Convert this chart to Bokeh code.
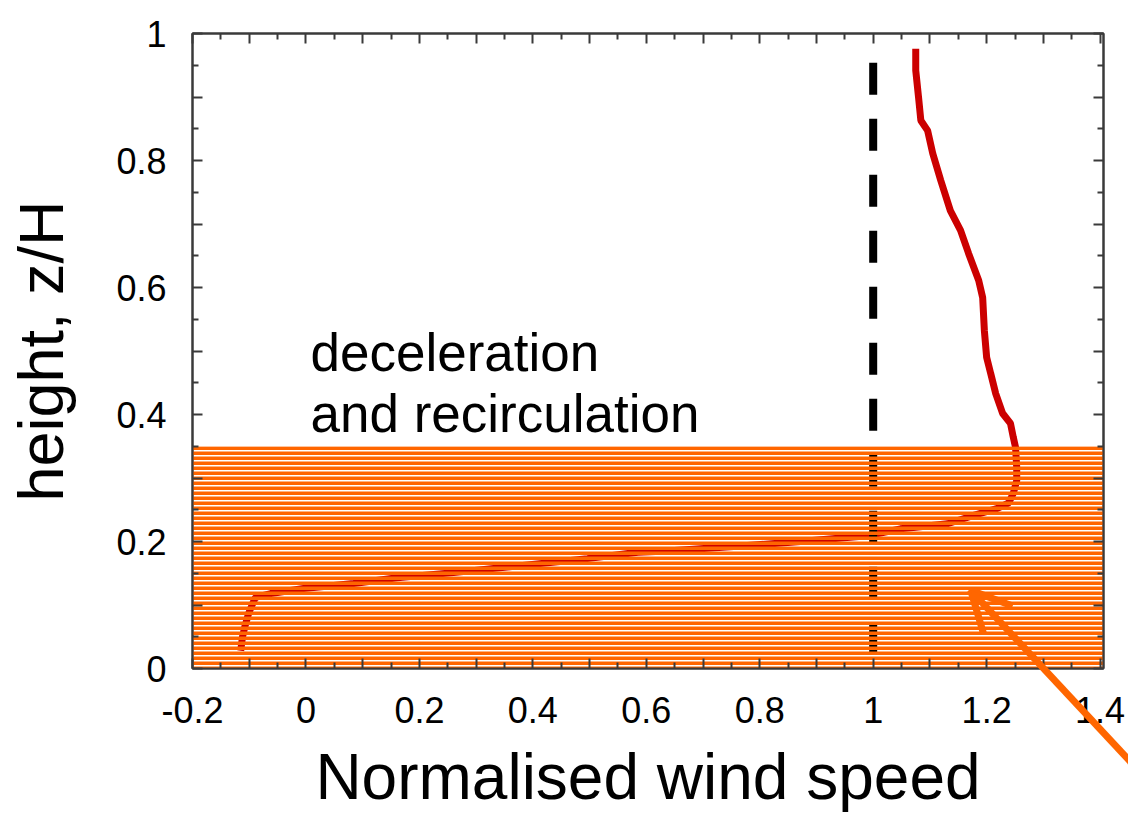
from bokeh.plotting import figure
from bokeh.layouts import column
from bokeh.models import Range1d, LinearAxis, FixedTicker, CustomJSTickFormatter, Arrow, OpenHead
from bokeh.core.properties import value
from bokeh.embed import file_html
from bokeh.resources import INLINE

# ---- data ----
wind_speed = [-0.115, -0.112, -0.108, -0.101, -0.094, -0.089, -0.062, -0.004, 0.084, 0.161,
              0.260, 0.378, 0.496, 0.585, 0.637, 0.754, 0.872, 0.990, 1.048, 1.071,
              1.131, 1.177, 1.219, 1.239, 1.247, 1.253, 1.253, 1.251, 1.247, 1.242,
              1.228, 1.216, 1.207, 1.200, 1.196, 1.193, 1.186, 1.168, 1.154, 1.136,
              1.119, 1.105, 1.096, 1.084, 1.080, 1.075, 1.075]
height = [0.028, 0.049, 0.065, 0.087, 0.102, 0.112, 0.118, 0.126, 0.134, 0.143,
          0.151, 0.162, 0.173, 0.183, 0.185, 0.192, 0.200, 0.209, 0.220, 0.222,
          0.228, 0.241, 0.252, 0.261, 0.276, 0.296, 0.317, 0.348, 0.364, 0.386,
          0.402, 0.433, 0.465, 0.490, 0.532, 0.584, 0.611, 0.654, 0.690, 0.721,
          0.769, 0.811, 0.847, 0.863, 0.899, 0.942, 0.976]

ref_speed = 1.0          # dashed reference line
ref_top = 0.954
band_bottom, band_top = 0.0, 0.35   # hatched region
annot_lines = ["deceleration", "and recirculation"]
annot_x = [0.008, 0.008]
annot_y = [0.498, 0.402]
arrow_tail = (1.53, -0.22)
arrow_tip = (1.172, 0.123)

x_min, x_max = -0.2, 1.406
y_min, y_max = 0.0, 1.0
x_major = [-0.2, -0.1, 0.0, 0.1, 0.2, 0.3, 0.4, 0.5, 0.6, 0.7, 0.8, 0.9, 1.0, 1.1, 1.2, 1.3, 1.4]
x_minor = [-0.15, -0.05, 0.05, 0.15, 0.25, 0.35, 0.45, 0.55, 0.65, 0.75, 0.85, 0.95, 1.05, 1.15, 1.25, 1.35]
y_major = [0.0, 0.1, 0.2, 0.3, 0.4, 0.5, 0.6, 0.7, 0.8, 0.9, 1.0]
y_minor = [0.05, 0.15, 0.25, 0.35, 0.45, 0.55, 0.65, 0.75, 0.85, 0.95]

FONT = "Liberation Sans"
RED = "#CC0000"
ORANGE = "#FF6600"
FRAME = "#3a3a3a"

W, H = 1128, 817
BL, BR, BT, BB = 192, 25, 33, 149

p = figure(width=W, height=H, output_backend="svg", toolbar_location=None,
           x_range=Range1d(x_min, x_max), y_range=Range1d(y_min, y_max),
           x_axis_label="Normalised wind speed", y_axis_label="height, z/H",
           min_border_left=BL, min_border_right=BR, min_border_top=BT, min_border_bottom=BB)
p.frame_align = False
p.xgrid.visible = False
p.ygrid.visible = False
p.outline_line_color = FRAME
p.outline_line_width = 2
p.background_fill_color = "white"
p.border_fill_color = "white"

label_fmt = CustomJSTickFormatter(code="""
const r = Math.round(tick * 10);
if (r % 2 !== 0) { return ""; }
return String(r / 10);
""")
blank_fmt = CustomJSTickFormatter(code="return '';")

def style_axis(ax, ticks, minor, fmt, show):
    ax.ticker = FixedTicker(ticks=ticks, minor_ticks=minor)
    ax.formatter = fmt
    ax.axis_line_color = FRAME
    ax.axis_line_width = 2
    ax.major_tick_line_color = FRAME
    ax.minor_tick_line_color = FRAME
    ax.major_tick_line_width = 2
    ax.minor_tick_line_width = 2
    ax.major_tick_in = 10
    ax.major_tick_out = 0
    ax.minor_tick_in = 6
    ax.minor_tick_out = 0
    ax.major_label_text_font = FONT
    ax.major_label_text_font_size = "36px" if show else "1px"
    ax.major_label_text_color = "black"
    ax.axis_label_text_font = FONT
    ax.axis_label_text_font_style = "normal"
    ax.axis_label_text_color = "black"

xa = p.xaxis[0]
ya = p.yaxis[0]
style_axis(xa, x_major, x_minor, label_fmt, True)
style_axis(ya, y_major, y_minor, label_fmt, True)
xa.major_label_standoff = 28
xa.axis_label_standoff = 15
xa.axis_label_text_font_size = "64px"
ya.major_label_standoff = 26
ya.axis_label_standoff = 37
ya.axis_label_text_font_size = "63px"

top_ax = LinearAxis()
style_axis(top_ax, x_major, x_minor, blank_fmt, False)
top_ax.major_label_standoff = 0
p.add_layout(top_ax, "above")
right_ax = LinearAxis()
style_axis(right_ax, y_major, y_minor, blank_fmt, False)
right_ax.major_label_standoff = 0
p.add_layout(right_ax, "right")

# velocity profile
p.line(wind_speed, height, line_color=RED, line_width=7)
# reference line
p.line([ref_speed, ref_speed], [ref_top, band_bottom], line_color="black", line_width=8,
       line_dash="32 24")
# hatched band drawn on top
p.quad(left=[x_min], right=[x_max], bottom=[band_bottom], top=[band_top],
       fill_alpha=0, line_alpha=0, hatch_pattern="horizontal_line",
       hatch_color=ORANGE, hatch_weight=4, hatch_scale=5)

p.text(x=annot_x, y=annot_y, text=annot_lines, text_font=value(FONT),
       text_font_size="53px", text_color="black", text_baseline="alphabetic", text_align="left")

# transparent overlay figure over the whole canvas with the same data mapping,
# so the arrow can run out of the plot frame
sx = (W - BL - BR) / (x_max - x_min)
sy = (H - BT - BB) / (y_max - y_min)
ov = figure(width=W, height=H, output_backend="svg", toolbar_location=None,
            x_range=Range1d(x_min - BL / sx, x_max + BR / sx),
            y_range=Range1d(y_min - BB / sy, y_max + BT / sy),
            x_axis_type=None, y_axis_type=None,
            min_border_left=0, min_border_right=0, min_border_top=0, min_border_bottom=0)
ov.frame_align = False
ov.grid.visible = False
ov.outline_line_color = None
ov.background_fill_color = None
ov.border_fill_color = None
ov.stylesheets = [":host { position: absolute !important; left: 0px !important; top: 0px !important; }"]
ov.add_layout(Arrow(end=OpenHead(size=40, line_color=ORANGE, line_width=7),
                    x_start=arrow_tail[0], y_start=arrow_tail[1],
                    x_end=arrow_tip[0], y_end=arrow_tip[1],
                    line_color=ORANGE, line_width=7))

root = column(p, ov)
root.stylesheets = [":host { position: relative !important; width: 1128px !important; height: 817px !important; }"]

open("out.html", "w").write(file_html(root, INLINE))
